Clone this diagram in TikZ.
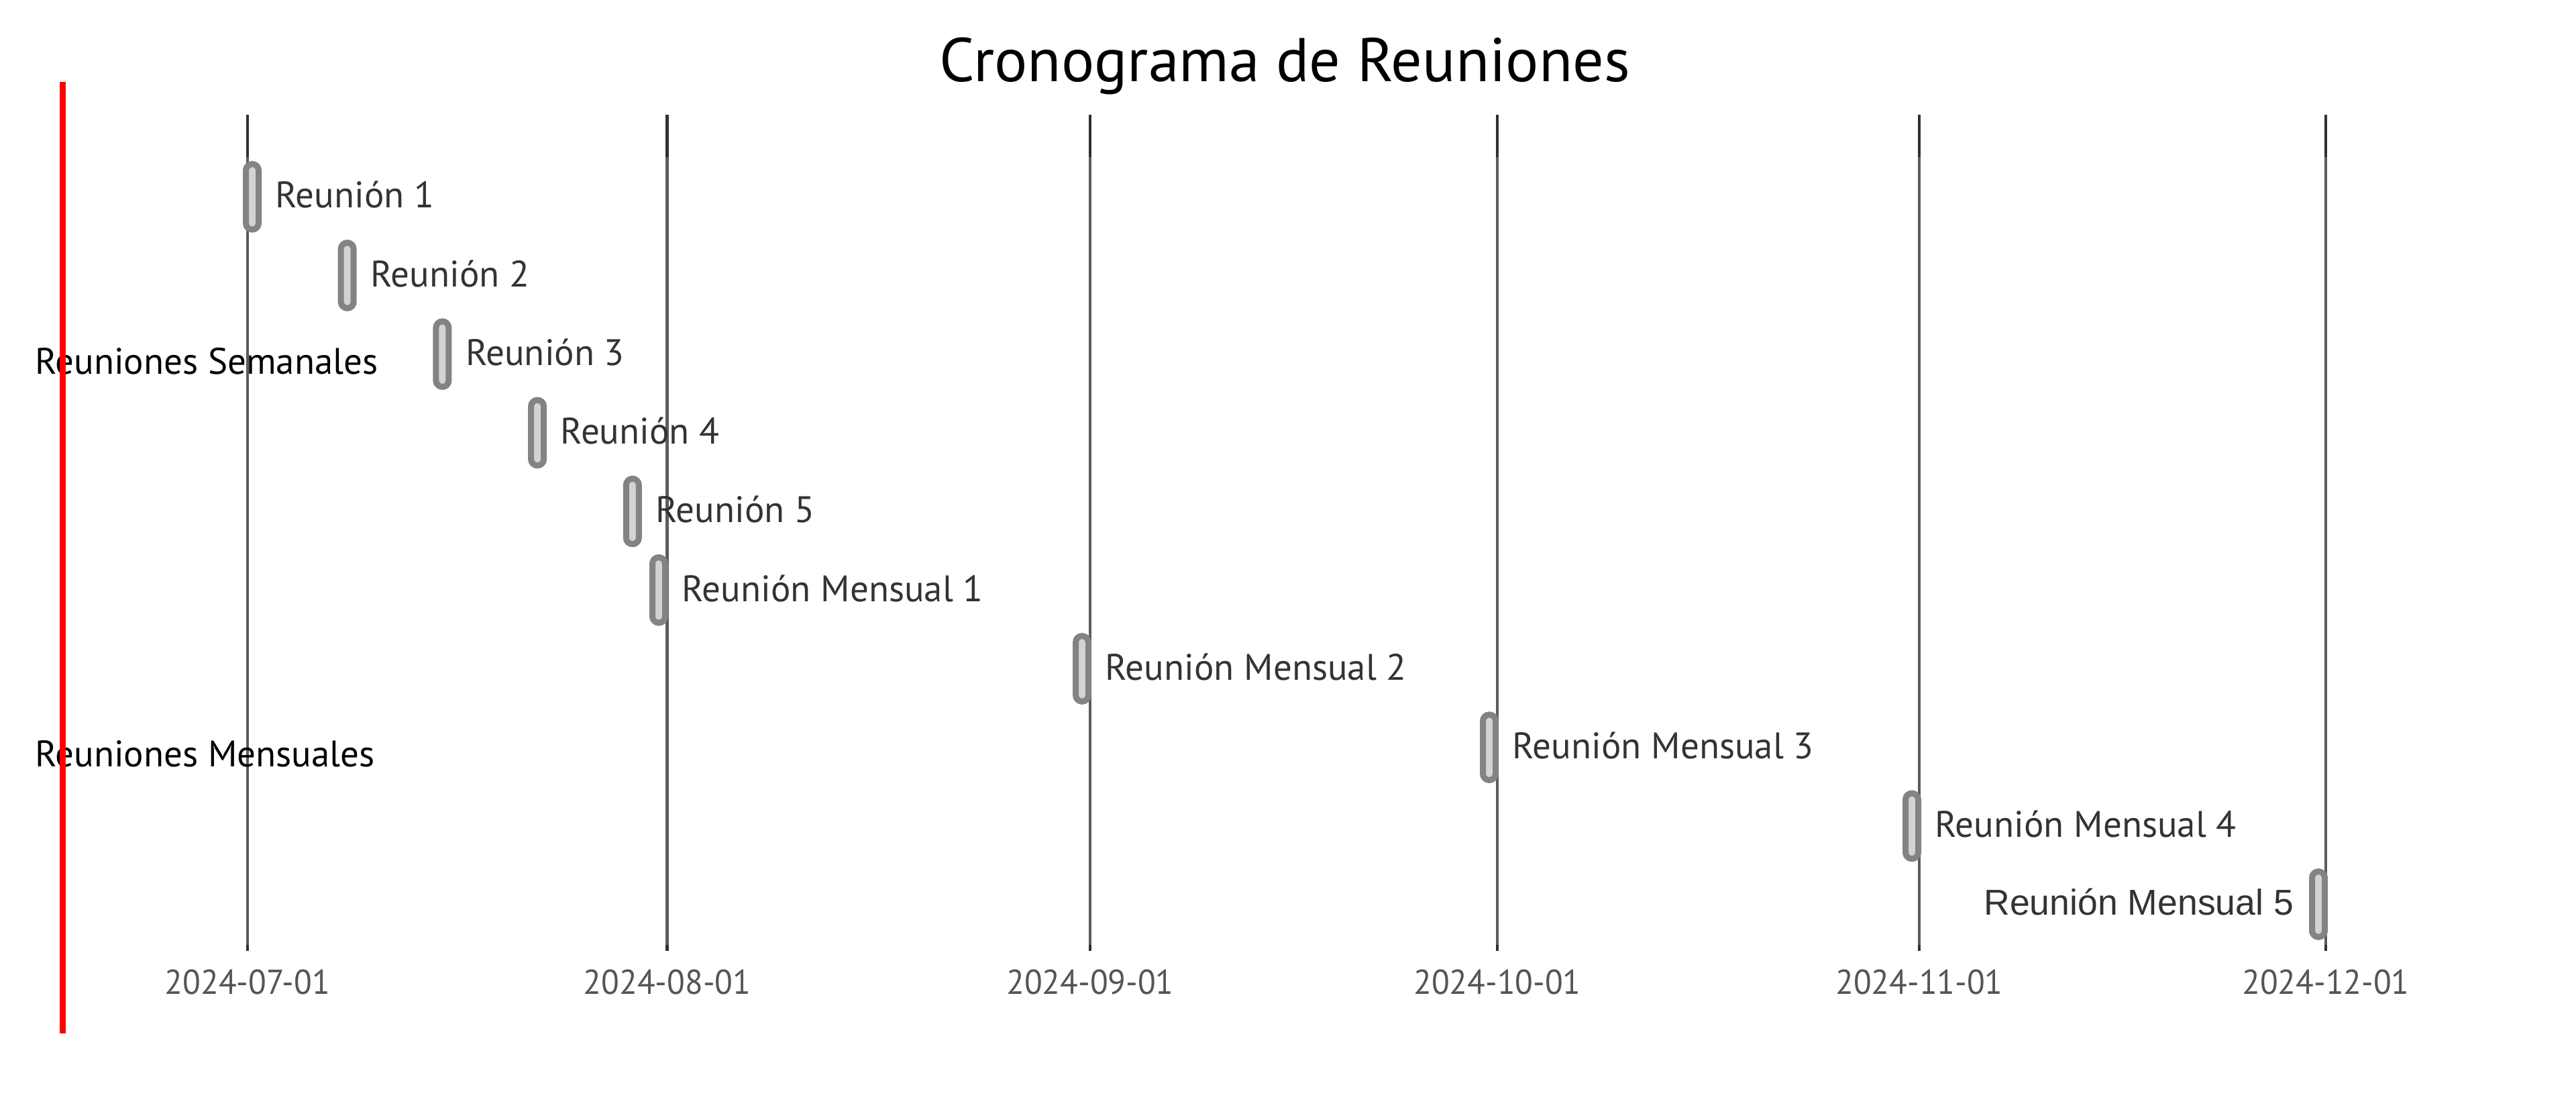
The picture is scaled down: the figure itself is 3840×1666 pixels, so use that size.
\documentclass[tikz,border=0pt]{standalone}
\usepackage{fontspec}
\setmainfont{PT Sans}
\newfontfamily\datefont[FakeStretch=0.955]{PT Sans}
\newfontfamily\arialfont{Liberation Sans}
\definecolor{gridmid}{HTML}{5C5C5C}
\definecolor{griddark}{HTML}{303030}
\definecolor{barfill}{HTML}{D3D3D3}
\definecolor{barline}{HTML}{838383}
\definecolor{txt}{HTML}{333333}
\definecolor{datetxt}{HTML}{555555}
\begin{document}
\begin{tikzpicture}[x=0.25pt,y=-0.25pt,
  bar/.style={draw=barline, fill=barfill, line width=2.25pt, rounded corners=2.35pt,
    minimum width=4.75pt, minimum height=24.4pt, inner sep=0pt, outer sep=0pt},
  tasklbl/.style={anchor=base west, inner sep=0pt, text=txt, font=\fontsize{13.75pt}{16pt}\selectfont},
  tasklblleft/.style={anchor=base east, inner sep=0pt, text=txt, font=\arialfont\fontsize{13.4pt}{16pt}\selectfont},
  seclbl/.style={anchor=base west, inner sep=0pt, text=black, font=\fontsize{13.75pt}{16pt}\selectfont},
  datelbl/.style={anchor=base, inner sep=0pt, text=datetxt, font=\datefont\fontsize{12.85pt}{15pt}\selectfont},
  gridtop/.style={draw=griddark, line width=1.15pt},
  gridbody/.style={draw=gridmid, line width=1.15pt}]
\useasboundingbox (0,0) rectangle (3840,1666);
\fill[white] (0,0) rectangle (3840,1666);

% title
\node[anchor=base, inner sep=0pt, font=\fontsize{23pt}{28pt}\selectfont] (title) at (1915,122) {Cronograma de Reuniones};

% grid lines
\foreach \gx in {369,994.5,1625,2232,2861,3467}{
  \draw[gridtop] (\gx,171) -- (\gx,234.5);
  \draw[gridbody] (\gx,234.5) -- (\gx,1408);
  \draw[gridtop] (\gx,1408) -- (\gx,1417);
}

% date labels
\node[datelbl] (d1) at (369,1481) {2024-07-01};
\node[datelbl] (d2) at (994.5,1481) {2024-08-01};
\node[datelbl] (d3) at (1625,1481) {2024-09-01};
\node[datelbl] (d4) at (2232,1481) {2024-10-01};
\node[datelbl] (d5) at (2861,1481) {2024-11-01};
\node[datelbl] (d6) at (3467,1481) {2024-12-01};

% section labels
\node[seclbl] (s1) at (51.5,557.3) {Reuniones Semanales};
\node[seclbl] (s2) at (51.5,1142.6) {Reuniones Mensuales};

% bars
\node[bar] (b1) at (376,293.3) {};
\node[bar] (b2) at (517.7,410.5) {};
\node[bar] (b3) at (659.4,527.7) {};
\node[bar] (b4) at (801.1,644.9) {};
\node[bar] (b5) at (942.8,762.1) {};
\node[bar] (b6) at (982,879.3) {};
\node[bar] (b7) at (1613,996.5) {};
\node[bar] (b8) at (2220,1113.7) {};
\node[bar] (b9) at (2850,1230.9) {};
\node[bar] (b10) at (3456,1347.5) {};

% task labels
\node[tasklbl] (t1) at (410,310) {Reunión 1};
\node[tasklbl] (t2) at (551.7,427.2) {Reunión 2};
\node[tasklbl] (t3) at (693.4,544.4) {Reunión 3};
\node[tasklbl] (t4) at (835.1,661.6) {Reunión 4};
\node[tasklbl] (t5) at (976.8,778.8) {Reunión 5};
\node[tasklbl] (t6) at (1016,896.5) {Reunión Mensual 1};
\node[tasklbl] (t7) at (1647,1013.2) {Reunión Mensual 2};
\node[tasklbl] (t8) at (2254,1130.4) {Reunión Mensual 3};
\node[tasklbl] (t9) at (2884,1247.6) {Reunión Mensual 4};
\node[tasklblleft] (t10) at (3420,1363) {Reunión Mensual 5};

% red marker line
\coordinate (rtop) at (93,122);
\coordinate (rbot) at (93,1540);
\draw[red, line width=2.25pt] (rtop) -- (rbot);
\end{tikzpicture}
\end{document}
